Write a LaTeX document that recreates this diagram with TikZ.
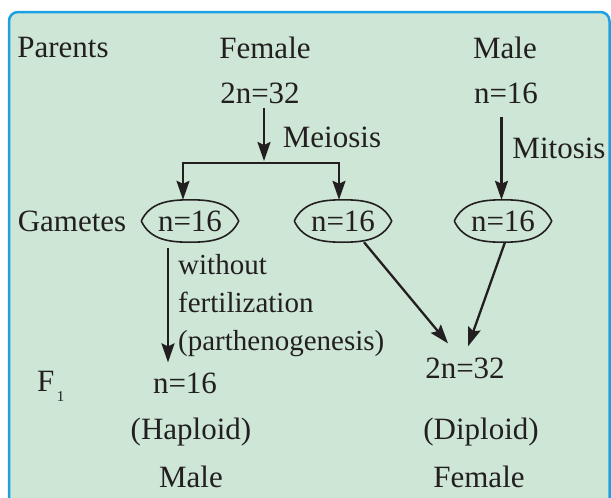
\documentclass[tikz,border=0pt]{standalone}
\usepackage{fontspec}
\setmainfont{Liberation Serif}
\newfontfamily\timesx{Liberation Serif}
\usetikzlibrary{arrows.meta}
\definecolor{boxfill}{HTML}{CDE6D5}
\definecolor{boxline}{HTML}{1DA1E2}
\definecolor{ink}{HTML}{231F20}
\begin{document}
\begin{tikzpicture}[x=1pt,y=-1pt,
  every node/.style={inner sep=0pt, text=ink, font=\timesx\fontsize{31}{37.5}\selectfont},
  smalltext/.style={font=\timesx\fontsize{29}{38}\selectfont},
  arr/.style={draw=ink, line width=2.3pt, -{Stealth[length=19pt,width=13pt,inset=3pt]}},
  gamete/.style={minimum width=97pt, minimum height=42pt},
  outline/.style={draw=ink, line width=1.6pt}]
\useasboundingbox (0,0) rectangle (611,498);
\begin{scope}
  \clip (0,0) rectangle (611,498);
  \draw[boxline, fill=boxfill, line width=2.5pt, rounded corners=9pt] (9,12) rectangle (609.5,540);
\end{scope}
% top row
\node (par) at (63,48) {Parents};
\node (fem) at (265,48) {Female};
\node (mal) at (505,48) {Male};
\node (f2n) at (260,93) {2n=32};
\node (mn) at (506,93) {n=16};
% gametes
\node (gam) at (72,221) {Gametes};
\node[gamete] (g1) at (190,221) {n=16};
\node[gamete] (g2) at (343,221) {n=16};
\node[gamete] (g3) at (503,221) {n=16};
\foreach \g in {g1,g2,g3}{
  \draw[outline] (\g.west) to[out=65,in=180] (\g.north) to[out=0,in=115] (\g.east)
     to[out=-115,in=0] (\g.south) to[out=180,in=-65] (\g.west);
}
% meiosis
\coordinate (split) at (264,163);
\draw[arr, shorten <=4pt, shorten >=2pt] (split |- f2n.south) -- (split);
\draw[arr] (split) -| ([xshift=-7pt]g1.north);
\draw[arr] (split) -| ([xshift=-4pt]g2.north);
\node (mei) at (332,137) {Meiosis};
% mitosis
\draw[arr, shorten <=13pt] ([xshift=-4.5pt]mn.south) -- ([xshift=-1.5pt]g3.north);
\node (mit) at (559,148) {Mitosis};
% F1 row
\node[anchor=base west] (f1) at (37,391.5) {F\smash{\raisebox{-10pt}{\fontsize{15}{15}\selectfont\,1}}};
\node (hn) at (185,383) {n=16};
\node (dn) at (465,368) {2n=32};
\node (hap) at (191,432) {(Haploid)};
\node (hm) at (191,477) {Male};
\node (dip) at (481,432) {(Diploid)};
\node (df) at (479,477) {Female};
% parthenogenesis
\draw[arr, shorten <=6pt, shorten >=10pt] ([xshift=-22pt]g1.south) -- ([xshift=-17pt]hn.north);
\node[smalltext, anchor=west, align=left] (lab) at (178,306) {without\\fertilization\\(parthenogenesis)};
% fertilization
\draw[arr] ([xshift=21pt]g2.south) -- ([xshift=-17pt,yshift=14pt]dn.north);
\draw[arr] ([xshift=2pt]g3.south) -- ([xshift=3pt,yshift=11pt]dn.north);
\end{tikzpicture}
\end{document}
